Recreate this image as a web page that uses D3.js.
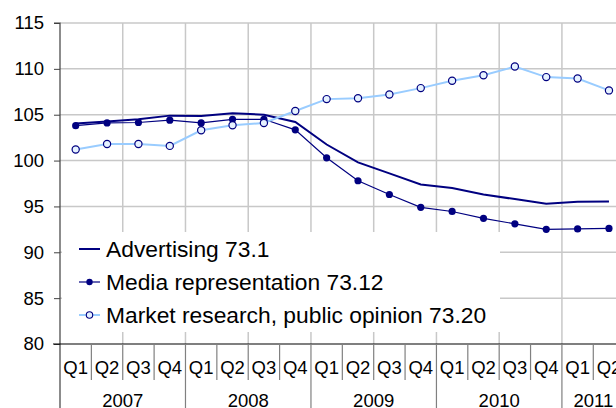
<!DOCTYPE html>
<html>
<head>
<meta charset="utf-8">
<script src="https://cdn.jsdelivr.net/npm/d3@7/dist/d3.min.js"></script>
<style>
html,body{margin:0;padding:0;background:#fff;overflow:hidden;}
svg{display:block;font-family:"Liberation Sans",Arial,sans-serif;}
</style>
</head>
<body>
<svg id="chart" width="616" height="408"></svg>
<script>
const quarters = ["Q1","Q2","Q3","Q4","Q1","Q2","Q3","Q4","Q1","Q2","Q3","Q4","Q1","Q2","Q3","Q4","Q1","Q2"];
const years = ["2007","2008","2009","2010","2011"];
const yearOf = [0,0,0,0,1,1,1,1,2,2,2,2,3,3,3,3,4,4];
const yTicks = [80,85,90,95,100,105,110,115];
const seriesNames = ["Advertising 73.1","Media representation 73.12","Market research, public opinion 73.20"];
const advertising = [104.05,104.25,104.5,104.9,104.85,105.15,105.0,104.2,101.75,99.8,98.6,97.4,97.0,96.3,95.8,95.3,95.5,95.55];
const media = [103.8,104.1,104.15,104.4,104.1,104.5,104.5,103.35,100.3,97.8,96.3,94.9,94.45,93.7,93.1,92.5,92.55,92.6];
const market = [101.2,101.8,101.8,101.6,103.3,103.85,104.1,105.4,106.7,106.8,107.2,107.9,108.7,109.3,110.25,109.1,108.95,107.65];

const svg = d3.select("#chart");
const W = 616, H = 408;
const left = 60, step = 31.37;
const idx = d3.range(quarters.length);
const x = d3.scaleBand().domain(idx).range([left, left + step*quarters.length]).paddingInner(0).paddingOuter(0);
const y = d3.scaleLinear().domain([80,115]).range([344, 23]);
const xc = i => x(i) + x.bandwidth()/2;
const xEdge = i => left + x.step()*i;

// horizontal gridlines
svg.append("g").selectAll("line").data(yTicks.filter(d=>d>80)).join("line")
  .attr("x1", left).attr("x2", W).attr("y1", d=>y(d)).attr("y2", d=>y(d))
  .attr("stroke", "#c8c8c8").attr("stroke-width", 1.5);
// vertical gridlines every 2 quarters
svg.append("g").selectAll("line").data(d3.range(2, quarters.length+1, 2)).join("line")
  .attr("x1", i=>xEdge(i)).attr("x2", i=>xEdge(i))
  .attr("y1", y(115)).attr("y2", y(80))
  .attr("stroke", "#c8c8c8").attr("stroke-width", 1.5);

// y axis
const yAxis = d3.axisLeft(y).tickValues(yTicks).tickSize(6).tickPadding(10).tickFormat(d3.format("d"));
const gy = svg.append("g").attr("transform", `translate(${left},0)`).call(yAxis);
gy.select(".domain").attr("stroke", "#404040").attr("stroke-width", 1.2).attr("d", `M-6,${y(115)}H0V${H}`);
gy.selectAll(".tick line").attr("stroke", "#404040");
gy.selectAll("text").attr("font-size", 18.5).attr("fill", "#000").attr("font-family", "Liberation Sans, Arial, sans-serif");

// lines
const line = d3.line().x((d,i)=>xc(i)).y(d=>y(d));
svg.append("path").datum(advertising).attr("d", line).attr("fill","none").attr("stroke","#000080").attr("stroke-width",2);
svg.append("path").datum(media).attr("d", line).attr("fill","none").attr("stroke","#000080").attr("stroke-width",1.2);
svg.append("g").selectAll("circle").data(media).join("circle")
  .attr("cx",(d,i)=>xc(i)).attr("cy",d=>y(d)).attr("r",3.6).attr("fill","#000080");
svg.append("path").datum(market).attr("d", line).attr("fill","none").attr("stroke","#99ccff").attr("stroke-width",2);
svg.append("g").selectAll("circle").data(market).join("circle")
  .attr("cx",(d,i)=>xc(i)).attr("cy",d=>y(d)).attr("r",3.6).attr("fill","#e6f2ff").attr("stroke","#000080").attr("stroke-width",1.2);

// x axis
svg.append("line").attr("x1", left-7).attr("x2", W).attr("y1", y(80)).attr("y2", y(80)).attr("stroke","#000").attr("stroke-width",1.2);
const gx = svg.append("g");
gx.selectAll("line.q").data(d3.range(1, quarters.length+1)).join("line").attr("class","q")
  .attr("x1", i=>xEdge(i)).attr("x2", i=>xEdge(i))
  .attr("y1", y(80)).attr("y2", i=> (i%4===0) ? H : 380)
  .attr("stroke","#808080").attr("stroke-width",1.2);
gx.selectAll("text.q").data(idx).join("text").attr("class","q")
  .attr("x", i=>xc(i)).attr("y", 374).attr("text-anchor","middle").attr("font-size",18.5).text(i=>quarters[i]);
gx.selectAll("text.y").data(years).join("text").attr("class","y")
  .attr("x", (d,k)=>{ const ii = idx.filter(i=>yearOf[i]===k); return (x(ii[0]) + x(ii[ii.length-1]) + x.bandwidth())/2; })
  .attr("y", 406.5).attr("text-anchor","middle").attr("font-size",18.5).text(d=>d);

// legend
const lg = svg.append("g");
lg.append("rect").attr("x",62).attr("y",232).attr("width",438).attr("height",100).attr("fill","#fff");
const ly = [249, 282, 315];
const lcol = ["#000080","#000080","#99ccff"];
const lw = [2,1.2,2];
seriesNames.forEach((name,k)=>{
  lg.append("line").attr("x1",79).attr("x2",100).attr("y1",ly[k]).attr("y2",ly[k]).attr("stroke",lcol[k]).attr("stroke-width",lw[k]);
  if (k===1) lg.append("circle").attr("cx",89.5).attr("cy",ly[k]).attr("r",3.2).attr("fill","#000080");
  if (k===2) lg.append("circle").attr("cx",89.5).attr("cy",ly[k]).attr("r",3.2).attr("fill","#e6f2ff").attr("stroke","#000080").attr("stroke-width",1.1);
  lg.append("text").attr("x",106).attr("y",ly[k]+8).attr("font-size",22.8).attr("fill","#000").text(name);
});
</script>
</body>
</html>
